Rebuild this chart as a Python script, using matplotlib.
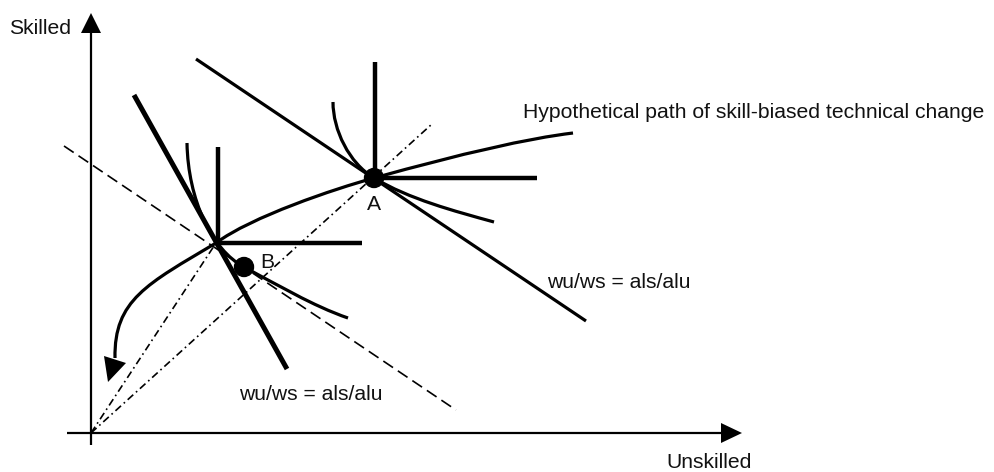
import matplotlib
matplotlib.use("Agg")
import matplotlib.pyplot as plt
from matplotlib.path import Path
from matplotlib.patches import PathPatch, Polygon, Circle

W, H = 994, 472
plt.rcParams['font.family'] = ['Liberation Sans', 'DejaVu Sans']

# ---- diagram geometry (pixel-like data units) ----
origin = (91, 433)
y_axis = {"x": [91, 91], "y": [445, 33]}
y_arrow = [(81, 33), (101, 33), (91, 13)]
x_axis = {"x": [67, 721], "y": [433, 433]}
x_arrow = [(721, 423), (721, 443), (742, 433)]

point_A = (374, 178)
point_B = (244, 267)
point_C = (216, 243)

# isocost / relative wage lines
bold_line = {"x": [134, 287], "y": [95, 369]}
line_A = {"x": [196, 586], "y": [59, 321]}
dashed_line = {"x": [64, 456], "y": [146, 410]}
ray_A = {"x": [91, 432], "y": [433, 124]}
ray_C = {"x": [91, 216], "y": [433, 243]}

# Leontief (L-shaped) isoquants
L_C = {"x": [218, 218, 362], "y": [147, 243, 243]}
L_A = {"x": [375, 375, 537], "y": [62, 178, 178]}

# smooth isoquants (cubic bezier control points)
iso_A = [(333, 102), (333, 130), (349, 163), (374, 178),
         (409, 199), (454, 211), (494, 222)]
iso_B = [(187, 143), (188, 200), (212, 250), (244, 267),
         (276, 284), (313, 306), (348, 318)]

# hypothetical path of skill-biased technical change
path_pts = [(573, 133), (506, 141), (374, 178),        # quadratic part
            (334, 189), (251, 217), (216, 243),        # cubic
            (147, 284), (114, 300), (115, 358)]        # cubic
path_codes = [Path.MOVETO, Path.CURVE3, Path.CURVE3,
              Path.CURVE4, Path.CURVE4, Path.CURVE4,
              Path.CURVE4, Path.CURVE4, Path.CURVE4]
path_arrow = [(104, 356), (126, 363), (108, 382)]

labels = [
    ("Skilled", 9, 28),
    ("Unskilled", 666, 463),
    ("A", 367, 204),
    ("B", 260, 262),
    ("Hypothetical path of skill-biased technical change", 523, 112),
    ("wu/ws = als/alu", 547, 282),
    ("wu/ws = als/alu", 239, 395),
]

fig = plt.figure(figsize=(W / 100, H / 100), dpi=100)
ax = fig.add_axes([0, 0, 1, 1])
ax.set_xlim(0, W)
ax.set_ylim(H, 0)
ax.axis('off')

k = 'black'
# axes
ax.plot(y_axis["x"], y_axis["y"], color=k, lw=1.6, solid_capstyle='butt')
ax.plot(x_axis["x"], x_axis["y"], color=k, lw=1.6, solid_capstyle='butt')
ax.add_patch(Polygon(y_arrow, closed=True, color=k, lw=0))
ax.add_patch(Polygon(x_arrow, closed=True, color=k, lw=0))

# dashed / dash-dot guide lines
ax.plot(dashed_line["x"], dashed_line["y"], color=k, lw=1.2, dashes=(7, 3.5))
ax.plot(ray_A["x"], ray_A["y"], color=k, lw=1.2, dashes=(4.5, 2.2, 1, 2.2))
ax.plot(ray_C["x"], ray_C["y"], color=k, lw=1.2, dashes=(4.5, 2.2, 1, 2.2))

# solid lines
ax.plot(bold_line["x"], bold_line["y"], color=k, lw=3.6, solid_capstyle='butt')
ax.plot(line_A["x"], line_A["y"], color=k, lw=2.3, solid_capstyle='butt')
ax.plot(L_C["x"], L_C["y"], color=k, lw=3.2, solid_capstyle='butt',
        solid_joinstyle='miter')
ax.plot(L_A["x"], L_A["y"], color=k, lw=3.2, solid_capstyle='butt',
        solid_joinstyle='miter')

bez7 = [Path.MOVETO] + [Path.CURVE4] * 6
ax.add_patch(PathPatch(Path(iso_A, bez7), fill=False, lw=2.3, ec=k))
ax.add_patch(PathPatch(Path(iso_B, bez7), fill=False, lw=2.3, ec=k))
ax.add_patch(PathPatch(Path(path_pts, path_codes), fill=False, lw=2.3, ec=k))
ax.add_patch(Polygon(path_arrow, closed=True, color=k, lw=0))

# points
ax.add_patch(Circle(point_A, 9.5, color=k, zorder=5))
ax.add_patch(Circle(point_B, 9.5, color=k, zorder=5))

for txt, x, y in labels:
    ax.text(x, y, txt, fontsize=15.2, ha='left', va='center', color='#111111')

fig.savefig("out.png", dpi=100)
